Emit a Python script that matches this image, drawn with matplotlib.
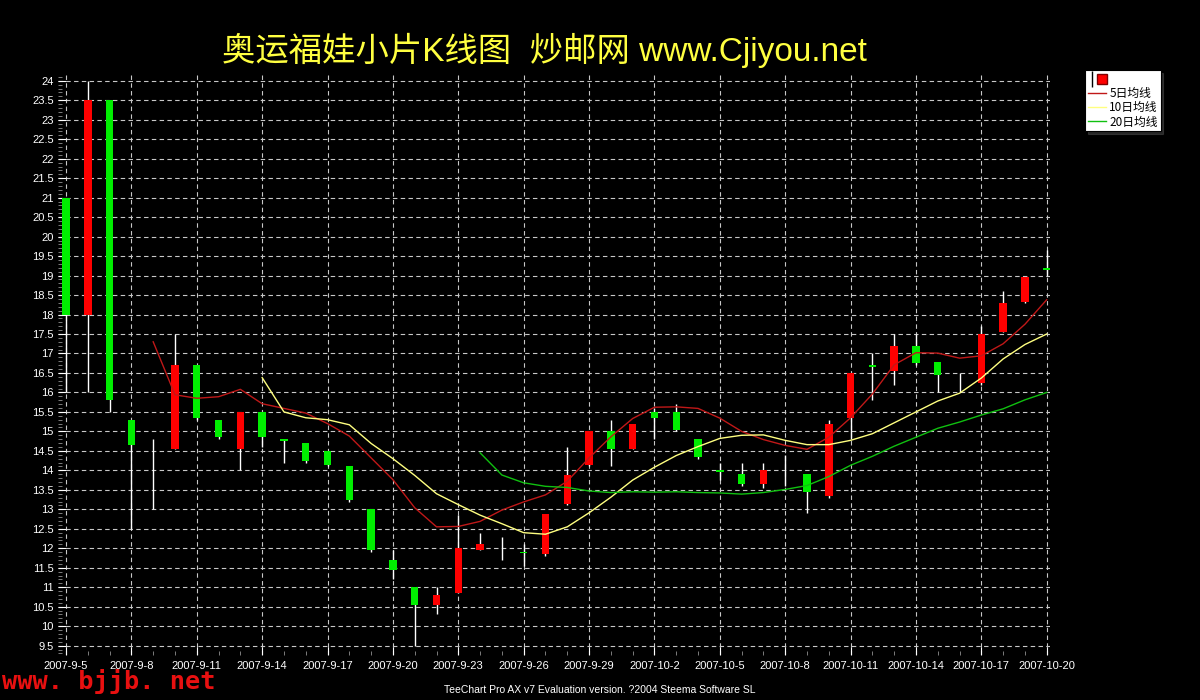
import numpy as np
import pandas as pd
import matplotlib
matplotlib.use("Agg")
import matplotlib.pyplot as plt
from matplotlib.lines import Line2D
from matplotlib.legend_handler import HandlerTuple

plt.rcParams['font.family'] = ['Liberation Sans', 'Noto Sans CJK SC', 'DejaVu Sans']

# -----------------------------
# data
# -----------------------------
dates = pd.date_range("2007-09-05", "2007-10-20")

open_ = [21.0, 18.0, 23.5, 15.3, 14.55, 14.55, 16.7, 15.3, 14.55, 15.5,
         14.8, 14.7, 14.5, 14.1, 13.0, 11.7, 11.0, 10.55, 10.85, 11.95,
         12.0, 11.9, 11.85, 13.13, 14.13, 15.0, 14.55, 15.5, 15.5, 14.8,
         14.0, 13.9, 13.65, 13.6, 13.9, 13.35, 15.35, 16.7, 16.55, 17.2,
         16.77, 16.0, 16.23, 17.56, 18.33, 19.2]
high = [21.0, 24.0, 23.5, 15.3, 14.8, 17.5, 16.7, 15.3, 15.5, 15.5,
        14.8, 14.7, 14.5, 14.1, 13.0, 11.95, 11.0, 11.0, 12.85, 12.4,
        12.3, 12.1, 12.87, 14.6, 15.0, 15.3, 15.2, 15.6, 15.7, 14.8,
        14.2, 14.2, 14.2, 14.4, 13.9, 15.3, 16.5, 17.0, 17.5, 17.5,
        16.77, 16.5, 17.7, 18.6, 18.97, 19.65]
low = [16.0, 16.0, 15.5, 12.5, 13.0, 14.55, 15.3, 14.8, 14.0, 14.6,
       14.2, 14.2, 14.1, 13.2, 11.9, 11.2, 9.5, 10.3, 10.85, 11.95,
       11.7, 11.55, 11.8, 13.1, 14.1, 14.1, 14.55, 14.8, 15.0, 14.3,
       13.75, 13.6, 13.55, 13.6, 12.9, 13.3, 14.8, 15.8, 16.2, 16.7,
       16.0, 16.0, 16.2, 17.55, 18.3, 19.0]
close = [18.0, 23.5, 15.8, 14.65, 14.55, 16.7, 15.35, 14.85, 15.5, 14.85,
         14.75, 14.25, 14.15, 13.25, 11.95, 11.45, 10.55, 10.8, 12.0, 12.1,
         12.0, 11.87, 12.87, 13.88, 15.0, 14.55, 15.2, 15.35, 15.03, 14.35,
         13.95, 13.65, 14.0, 13.6, 13.45, 15.2, 16.5, 16.65, 17.2, 16.75,
         16.45, 16.0, 17.5, 18.3, 18.97, 19.15]

# moving average lines as drawn by the chart (start at 9-9, 9-14, 9-24)
ma5 = [17.30, 15.94, 15.85, 15.89, 16.08, 15.71, 15.59, 15.47, 15.20, 14.88,
       14.32, 13.76, 13.04, 12.55, 12.56, 12.69, 12.98, 13.19, 13.37, 13.72,
       14.32, 14.86, 15.33, 15.62, 15.63, 15.59, 15.34, 15.00, 14.79, 14.64,
       14.54, 14.85, 15.35, 15.96, 16.71, 17.02, 17.01, 16.88, 16.94, 17.25,
       17.75, 18.38]
ma10 = [16.38, 15.50, 15.35, 15.30, 15.17, 14.69, 14.30, 13.87, 13.40, 13.12,
        12.85, 12.63, 12.40, 12.36, 12.55, 12.91, 13.31, 13.75, 14.08, 14.38,
        14.61, 14.82, 14.90, 14.91, 14.77, 14.66, 14.66, 14.77, 14.94, 15.22,
        15.50, 15.78, 15.98, 16.37, 16.86, 17.23, 17.50]
ma20 = [14.45, 13.88, 13.68, 13.59, 13.56, 13.47, 13.43, 13.45, 13.44, 13.45,
        13.43, 13.42, 13.39, 13.43, 13.51, 13.61, 13.84, 14.13, 14.36, 14.62,
        14.85, 15.08, 15.24, 15.42, 15.58, 15.81, 16.00]

tick_labels = ["2007-9-5", "2007-9-8", "2007-9-11", "2007-9-14", "2007-9-17",
               "2007-9-20", "2007-9-23", "2007-9-26", "2007-9-29", "2007-10-2",
               "2007-10-5", "2007-10-8", "2007-10-11", "2007-10-14",
               "2007-10-17", "2007-10-20"]

# -----------------------------
# figure
# -----------------------------
fig = plt.figure(figsize=(12, 7), dpi=100, facecolor='black')
ax = fig.add_axes([0.0483, 0.0643, 0.8267, 0.8314])
ax.set_facecolor('black')

x = np.arange(len(dates))
o = np.array(open_)
c = np.array(close)
colors = np.where(c > o, '#ff0000', '#00ee00')

ax.vlines(x, low, high, color='white', lw=1, zorder=2)
ax.bar(x, np.abs(c - o), bottom=np.minimum(o, c), width=0.34,
       color=colors, linewidth=0, zorder=3)

ax.plot(x[4:], ma5, color='#c01818', lw=1, zorder=4)
ax.plot(x[9:], ma10, color='#ffff80', lw=1, zorder=4)
ax.plot(x[19:], ma20, color='#10c010', lw=1, zorder=4)

ax.set_xlim(-0.37, len(x) - 1 + 0.15)
ax.set_ylim(9.26, 24.2)

ax.set_xticks(x[::3])
ax.set_xticklabels(tick_labels)
ax.set_xticks(x, minor=True)
ax.set_yticks(np.arange(9.5, 24.01, 0.5))
ax.set_yticklabels([f"{v:g}" for v in np.arange(9.5, 24.01, 0.5)])
ax.set_yticks(np.arange(9.3, 24.2, 0.1), minor=True)

ax.tick_params(axis='both', which='major', colors='white', labelsize=8,
               direction='in', length=6, width=0.8)
ax.tick_params(axis='both', which='minor', colors='#909090',
               direction='in', length=3, width=0.6)
ax.tick_params(axis='x', pad=4)
ax.tick_params(axis='y', pad=3)
for t in ax.get_xticklines() + ax.get_yticklines():
    t.set_color('#b0b0b0')

ax.grid(True, which='major', color='#c8c8c8', linestyle=(0, (4, 3)),
        linewidth=0.8, zorder=1)
ax.set_axisbelow(True)
for s in ax.spines.values():
    s.set_visible(False)

# legend
h_candle = (Line2D([], [], marker='|', color='black', markersize=11,
                   linestyle='none'),
            Line2D([], [], marker='s', color='#ff0000', markeredgecolor='#800000',
                   markersize=7, linestyle='none'))
h5 = Line2D([], [], color='#c01818', lw=1)
h10 = Line2D([], [], color='#ffff80', lw=1)
h20 = Line2D([], [], color='#10c010', lw=1)
leg = fig.legend([h_candle, h5, h10, h20], ["", "5日均线", "10日均线", "20日均线"],
                 handler_map={tuple: HandlerTuple(ndivide=None)},
                 loc='upper left', bbox_to_anchor=(1085 / 1200, 1 - 70 / 700),
                 prop={'family': ['Noto Sans CJK SC', 'DejaVu Sans'], 'size': 8.5},
                 frameon=True, fancybox=False, shadow=True, framealpha=1,
                 facecolor='white', edgecolor='black', borderpad=0.25,
                 labelspacing=0.1, handlelength=1.5, handletextpad=0.3,
                 borderaxespad=0, alignment='left')
leg.get_frame().set_linewidth(0.8)

# texts
fig.text(544 / 1200, 1 - 50 / 700, "奥运福娃小片K线图  炒邮网 www.Cjiyou.net",
         color='#ffff40', fontsize=24, ha='center', va='center',
         family=['Liberation Sans', 'Noto Sans CJK SC'])
fig.text(0.002, 1 - 682 / 700, "www. bjjb. net", color='#e81010',
         family='DejaVu Sans Mono', fontsize=18.2, fontweight='bold',
         va='center', ha='left')
fig.text(600 / 1200, 1 - 690 / 700,
         "TeeChart Pro AX v7 Evaluation version. ?2004 Steema Software SL",
         color='white', fontsize=7.5, ha='center', va='center')

fig.savefig("out.png", dpi=100, facecolor='black')
